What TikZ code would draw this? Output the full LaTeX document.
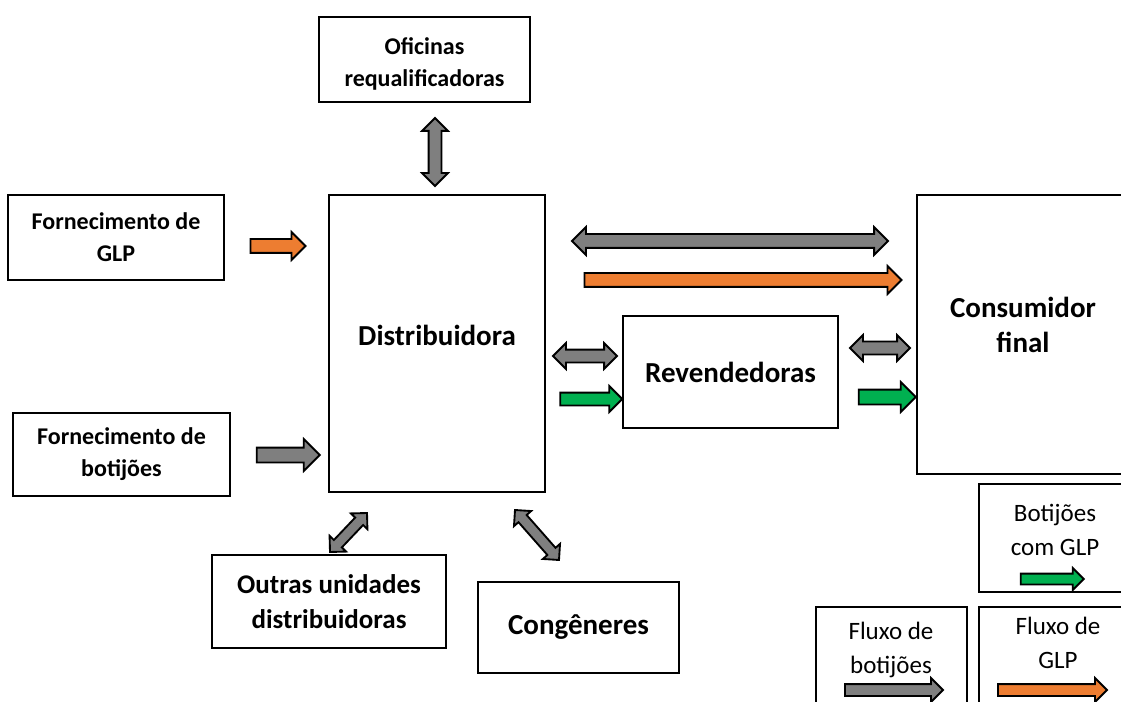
\documentclass[tikz,border=0pt]{standalone}
\usepackage{fontspec}
\setmainfont{Carlito}
\usetikzlibrary{shapes.arrows}
\definecolor{agray}{HTML}{7F7F7F}
\definecolor{aorange}{HTML}{ED7D31}
\definecolor{agreen}{HTML}{00B050}
\tikzset{
  box/.style={draw=black, line width=1.6pt, fill=white, inner sep=0pt, align=center},
  fsmall/.style={font=\bfseries\fontsize{18pt}{24pt}\selectfont},
  fmed/.style={font=\bfseries\fontsize{20.25pt}{26.25pt}\selectfont},
  fbig/.style={font=\bfseries\fontsize{21.75pt}{26.25pt}\selectfont},
  fleg/.style={font=\fontsize{18.75pt}{26pt}\selectfont},
  arr/.style={draw=black, line width=1.4pt, inner xsep=0pt, outer sep=0pt},
}
% box: name, x1, y1, x2, y2, style, text
\newcommand\bx[7]{\node[box,#6, minimum width={(#4-#2)*0.75pt}, minimum height={(#5-#3)*0.75pt}] (#1) at ({(#2+#4)/2},{(#3+#5)/2}) {#7};}
% single arrow: name, x1,y1,x2,y2, colour, shaft, head
\newcommand\sar[8]{\node[arr, single arrow, fill=#6, inner ysep={#7*0.375pt}, single arrow head extend={(#8-#7)*0.375pt}, minimum height={veclen(#4-#2,#5-#3)*0.75pt}, rotate={atan2(-(#5-#3),#4-#2)}] (#1) at ({(#2+#4)/2},{(#3+#5)/2}) {};}
\newcommand\dar[8]{\node[arr, double arrow, fill=#6, inner ysep={#7*0.375pt}, double arrow head extend={(#8-#7)*0.375pt}, minimum height={veclen(#4-#2,#5-#3)*0.75pt}, rotate={atan2(-(#5-#3),#4-#2)}] (#1) at ({(#2+#4)/2},{(#3+#5)/2}) {};}
\begin{document}
\begin{tikzpicture}[x=0.75pt,y=-0.75pt]
\useasboundingbox (0,0) rectangle (1121,702);
\clip (0,0) rectangle (1121,702);
% boxes
\bx{ofi}{319}{17}{530}{102}{}{}
\node[fsmall, align=center] (ofilbl) at (424.5,64) {Oficinas\\requalificadoras};
\bx{fglp}{8}{195}{224}{280}{fsmall}{Fornecimento de\\GLP}
\bx{dist}{329}{195}{545}{492}{}{}
\node[fbig] (distlbl) at (437,335) {Distribuidora};
\bx{cons}{917}{195}{1129}{474}{}{}
\node[fbig, align=center] (conslbl) at (1023,325) {Consumidor\\final};
\bx{rev}{623}{316}{838}{428}{fbig}{Revendedoras}
\bx{fbot}{13}{413}{230}{496}{fsmall}{Fornecimento de\\botijões}
\bx{outras}{212}{555}{446}{648}{fmed}{Outras unidades\\distribuidoras}
\bx{cong}{478}{582}{679}{673}{fbig}{Congêneres}
% legend
\bx{leg1}{979}{484}{1131}{592}{}{}
\node[fleg, align=center] (leg1lbl) at (1055,530) {Botijões\\com GLP};
\bx{leg2}{816}{607}{967}{720}{}{}
\node[fleg, align=center] (leg2lbl) at (891,650) {Fluxo de\\botijões};
\bx{leg3}{979}{607}{1131}{720}{}{}
\node[fleg, align=center] (leg3lbl) at (1058,643) {Fluxo de\\GLP};
% arrows
\dar{aofi}{435}{118}{435}{186}{agray}{11}{24}
\sar{afglp}{247}{246}{302}{246}{aorange}{12}{26}
\sar{afbot}{253}{455}{316}{455}{agray}{13}{30}
\dar{atopg}{572}{241}{888}{241}{agray}{12}{26}
\sar{atopo}{581}{280}{898}{280}{aorange}{12}{26}
\dar{alg}{553}{356}{617}{356}{agray}{11}{24}
\sar{alv}{557}{399}{619}{399}{agreen}{11}{24}
\dar{arg}{850}{348}{910}{348}{agray}{11}{24}
\sar{arv}{855}{397}{912}{397}{agreen}{13}{28}
\dar{aout}{330}{552}{367}{513}{agray}{9}{21}
\dar{acong}{515}{510}{559}{560}{agray}{9}{21}
\sar{lg1}{1018}{579}{1081}{579}{agreen}{9}{20}
\sar{lg2}{842}{690}{940}{690}{agray}{10}{22}
\sar{lg3}{995}{690}{1104}{690}{aorange}{10}{22}
\end{tikzpicture}
\end{document}
